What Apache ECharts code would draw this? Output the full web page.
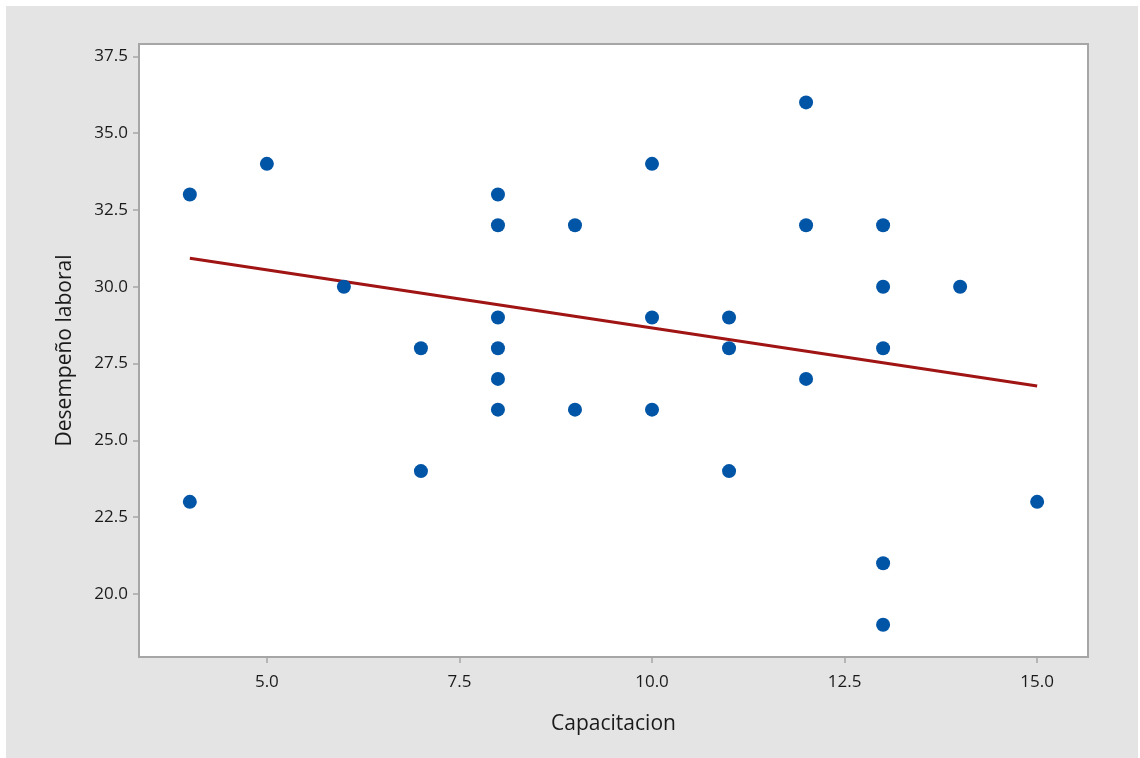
<!DOCTYPE html>
<html>
<head>
<meta charset="utf-8">
<script src="https://cdn.jsdelivr.net/npm/echarts@6/dist/echarts.min.js"></script>
<style>
html,body{margin:0;padding:0;background:#fff;}
#bg{position:absolute;left:6px;top:6px;width:1132px;height:752px;background:#e4e4e4;}
#chart{position:absolute;left:0;top:0;width:1140px;height:758px;}
</style>
</head>
<body>
<div id="bg"></div>
<div id="chart"></div>
<script>
const capacitacion = [4,4,5,6,7,7,8,8,8,8,8,8,9,9,10,10,10,11,11,11,12,12,12,13,13,13,13,13,14,15];
const desempeno    = [33,23,34,30,28,24,33,32,29,28,27,26,32,26,34,29,26,29,28,24,36,32,27,32,30,28,21,19,30,23];
const fitX = [4, 15];
const fitY = [30.93, 26.77];
const xTicks = [5.0, 7.5, 10.0, 12.5, 15.0];
const yTicks = [20.0, 22.5, 25.0, 27.5, 30.0, 32.5, 35.0, 37.5];

const chart = echarts.init(document.getElementById('chart'), null, {renderer:'canvas'});
const font = 'Open Sans';
chart.setOption({
  backgroundColor: 'transparent',
  animation: false,
  grid: {left:139, top:44, right:52, bottom:101, show:true, backgroundColor:'#ffffff', borderColor:'#a6a6a6', borderWidth:2},
  xAxis: {
    type:'value', min:3.34, max:15.66,
    name:'Capacitacion', nameLocation:'middle', nameGap:57,
    nameTextStyle:{fontFamily:font, fontSize:21, color:'#1a1a1a'},
    axisLine:{show:false},
    splitLine:{show:false},
    axisTick:{show:true, length:6, inside:false, lineStyle:{color:'#a6a6a6', width:1.5}, customValues:xTicks},
    axisLabel:{fontFamily:font, fontSize:17, color:'#1a1a1a', margin:17, customValues:xTicks, formatter:v=>v.toFixed(1)}
  },
  yAxis: {
    type:'value', min:17.95, max:37.9,
    name:'Desempeño laboral', nameLocation:'middle', nameGap:63, nameRotate:90,
    nameTextStyle:{fontFamily:font, fontSize:21, color:'#1a1a1a'},
    axisLine:{show:false},
    splitLine:{show:false},
    axisTick:{show:true, length:6, inside:false, lineStyle:{color:'#a6a6a6', width:1.5}, customValues:yTicks},
    axisLabel:{fontFamily:font, fontSize:17, color:'#1a1a1a', margin:11, customValues:yTicks, formatter:v=>v.toFixed(1)}
  },
  series: [
    {
      type:'line', data: fitX.map((x,i)=>[x, fitY[i]]),
      symbol:'none', lineStyle:{color:'#a01414', width:3}, z:2
    },
    {
      type:'scatter', data: capacitacion.map((x,i)=>[x, desempeno[i]]),
      symbol:'circle', symbolSize:14, itemStyle:{color:'#0055a6', opacity:1}, z:3
    }
  ]
});
</script>
</body>
</html>
